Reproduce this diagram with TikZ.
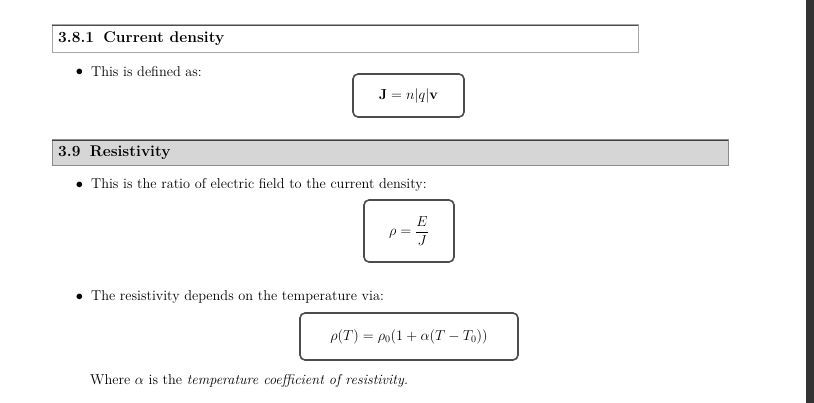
\documentclass[tikz,border=0pt]{standalone}
\usepackage{amsmath}
\begin{document}
\begin{tikzpicture}[x=1pt,y=-1pt,
  txt/.style={anchor=west,inner sep=0pt,font=\fontsize{14.3}{17}\selectfont},
  head/.style={anchor=west,inner sep=0pt,font=\fontsize{15.5}{18}\selectfont\bfseries},
  bul/.style={inner sep=0pt,font=\fontsize{14.3}{17}\selectfont},
  eqbox/.style={draw=black!70,line width=1.6pt,rounded corners=5pt,fill=white},
  eq/.style={inner sep=0pt,font=\fontsize{14.3}{17}\selectfont}]
\useasboundingbox (0,0) rectangle (814,403);
\fill[white] (0,0) rectangle (814,403);
\fill[black!80] (806,0) rectangle (814,403);
% heading 1
\draw[black!35,line width=1pt] (52,25) rectangle (638,53);
\draw[black!70,line width=0.8pt] (52,25) -- (638,25);
\node[head] (h1) at (58,39) {3.8.1\hspace{0.6em}Current density};
\node[bul] (k1) at (79.5,72) {$\bullet$};
\node[txt] (b1) at (91,72) {This is defined as:};
\draw[eqbox] (353,74) rectangle (464,117);
\node[eq] (e1) at (408.5,96) {$\mathbf{J}=n|q|\mathbf{v}$};
% heading 2
\fill[black!16] (52,140) rectangle (728,166);
\draw[black!45,line width=1pt] (52,140) rectangle (728,166);
\draw[black!75,line width=0.8pt] (52,140) -- (728,140);
\node[head] (h2) at (58,153) {3.9\hspace{0.6em}Resistivity};
\node[bul] (k2) at (79.5,185) {$\bullet$};
\node[txt] (b2) at (91,185) {This is the ratio of electric field to the current density:};
\draw[eqbox] (364,200) rectangle (454,262);
\node[eq] (e2) at (409,231) {$\displaystyle\rho=\frac{E}{J}$};
\node[bul] (k3) at (79.5,297) {$\bullet$};
\node[txt] (b3) at (91,297) {The resistivity depends on the temperature via:};
\draw[eqbox] (300,313) rectangle (518,360);
\node[eq] (e3) at (409,336.5) {$\rho(T)=\rho_0(1+\alpha(T-T_0))$};
\node[txt] (w) at (90,381) {Where $\alpha$ is the \textit{temperature coefficient of resistivity.}};
\end{tikzpicture}
\end{document}
